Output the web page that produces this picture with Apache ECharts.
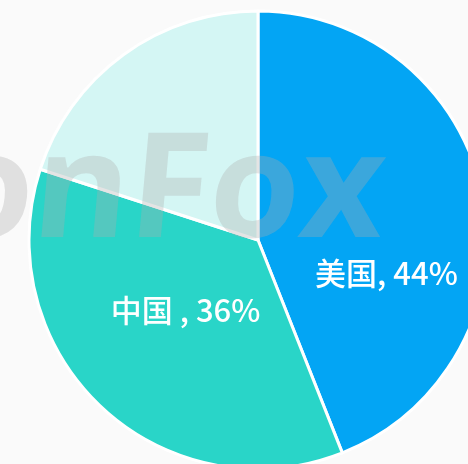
<!DOCTYPE html>
<html>
<head>
<meta charset="utf-8">
<script src="https://cdn.jsdelivr.net/npm/echarts@6/dist/echarts.min.js"></script>
<style>
html,body{margin:0;padding:0;background:#fafafa;}
#main{width:468px;height:464px;}
</style>
</head>
<body>
<div id="main"></div>
<script>
var categories = ['美国', '中国 ', '其他'];
var values = [44, 36, 20];
var colors = ['#03a5f4', '#29d5c8', '#d4f6f4'];
var watermark = 'onFox';

var chart = echarts.init(document.getElementById('main'));
var labelShift = [[13, 55], [8, -15], [0, 0]];
chart.setOption({
  backgroundColor: '#fafafa',
  animation: false,
  series: [{
    type: 'pie',
    center: [258, 240],
    radius: 229,
    startAngle: 90,
    clockwise: true,
    silent: true,
    itemStyle: { borderColor: '#ffffff', borderWidth: 3 },
    label: {
      show: true,
      position: 'inside',
      formatter: '{b}, {d}%',
      color: '#ffffff',
      fontSize: 31,
      fontFamily: '"Noto Sans CJK SC", "Noto Sans", sans-serif',
      fontWeight: 500
    },
    labelLine: { show: false },
    labelLayout: function (p) {
      var s = labelShift[p.dataIndex];
      return { dx: s[0], dy: s[1] };
    },
    data: categories.map(function (c, i) {
      var d = { name: c, value: values[i], itemStyle: { color: colors[i] } };
      if (i === 2) d.label = { show: false };
      return d;
    })
  }],
  graphic: [{
    type: 'text',
    z: 100,
    silent: true,
    x: 378,
    y: 268,
    skewX: -0.09,
    style: {
      text: watermark,
      align: 'right',
      verticalAlign: 'bottom',
      font: 'bold 146px "Open Sans", sans-serif',
      fill: 'rgba(172,172,172,0.33)'
    }
  }]
});
</script>
</body>
</html>
